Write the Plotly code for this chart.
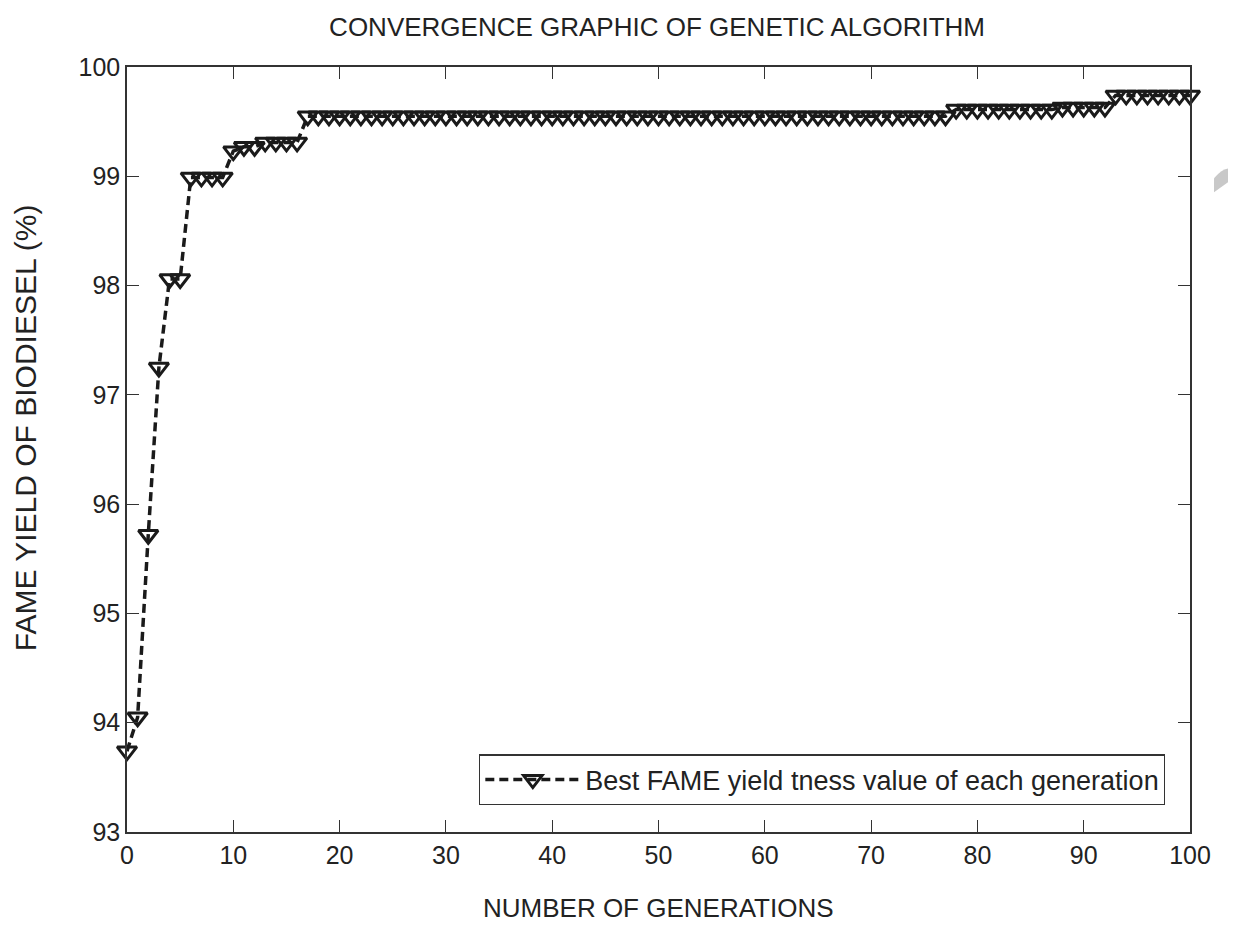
import plotly.graph_objects as go

generations = list(range(0, 101))
best_fame = [
    93.74, 94.05, 95.72, 97.25, 98.06, 98.06,
    98.99, 98.99, 98.99, 98.99,
    99.23, 99.27, 99.27,
    99.31, 99.31, 99.31, 99.31,
    99.55, 99.55, 99.55, 99.55, 99.55, 99.55, 99.55, 99.55, 99.55, 99.55,
    99.55, 99.55, 99.55, 99.55, 99.55, 99.55, 99.55, 99.55, 99.55, 99.55,
    99.55, 99.55, 99.55, 99.55, 99.55, 99.55, 99.55, 99.55, 99.55, 99.55,
    99.55, 99.55, 99.55, 99.55, 99.55, 99.55, 99.55, 99.55, 99.55, 99.55,
    99.55, 99.55, 99.55, 99.55, 99.55, 99.55, 99.55, 99.55, 99.55, 99.55,
    99.55, 99.55, 99.55, 99.55, 99.55, 99.55, 99.55, 99.55, 99.55, 99.55,
    99.55,
    99.61, 99.61, 99.61, 99.61, 99.61, 99.61, 99.61, 99.61, 99.61, 99.61,
    99.63, 99.63, 99.63, 99.63, 99.63,
    99.74, 99.74, 99.74, 99.74, 99.74, 99.74, 99.74, 99.74,
]
x_ticks = [0, 10, 20, 30, 40, 50, 60, 70, 80, 90, 100]
y_ticks = [93, 94, 95, 96, 97, 98, 99, 100]
series_name = "Best FAME yield tness value of each generation"

FONT = "Liberation Sans, Arial, sans-serif"
TXT = "#222222"

fig = go.Figure()
fig.add_trace(go.Scatter(
    x=generations, y=best_fame, mode="lines+markers", name=series_name,
    line=dict(color="#1a1a1a", width=3.5, dash="9px,5px"),
    marker=dict(symbol="triangle-down-open", size=17, color="#1a1a1a",
                line=dict(width=3, color="#1a1a1a")),
    cliponaxis=False,
))

axis_common = dict(
    showgrid=False, zeroline=False, showline=True, linecolor="#333333", linewidth=1.5,
    mirror="ticks", ticks="inside", ticklen=12, tickwidth=1.3, tickcolor="#333333",
    tickfont=dict(family=FONT, size=25, color=TXT), automargin=False,
)

fig.update_layout(
    width=1220, height=917,
    paper_bgcolor="white", plot_bgcolor="white",
    margin=dict(l=119, r=38, t=59, b=93, autoexpand=False),
    title=dict(text="CONVERGENCE GRAPHIC OF GENETIC ALGORITHM", x=0.532, xanchor="center",
               y=1 - 19 / 917, yanchor="middle",
               font=dict(family=FONT, size=26, color=TXT)),
    xaxis=dict(range=[0, 100], tickvals=x_ticks, **axis_common),
    yaxis=dict(range=[93, 100], tickvals=y_ticks, **axis_common),
    showlegend=True,
    legend=dict(x=0.9765, y=0.035, xanchor="right", yanchor="bottom",
                bgcolor="white", bordercolor="#333333", borderwidth=1.3,
                font=dict(family=FONT, size=27, color=TXT),
                itemwidth=95),
)

fig.add_annotation(text="NUMBER OF GENERATIONS", xref="paper", yref="paper",
                   x=0.5, y=-0.0993, xanchor="center", yanchor="middle",
                   showarrow=False, font=dict(family=FONT, size=26, color=TXT))
fig.add_annotation(text="FAME YIELD OF BIODIESEL (%)", xref="paper", yref="paper",
                   x=-0.096, y=0.529, xanchor="center", yanchor="middle",
                   textangle=-90, showarrow=False,
                   font=dict(family=FONT, size=30, color=TXT))

fig.add_shape(type="path", xref="paper", yref="paper",
              path="M 1.0226 0.8545 Q 1.0301 0.8676 1.0376 0.8676 L 1.0433 0.8571 L 1.0226 0.8362 Z",
              fillcolor="#c8c8c8", line=dict(width=0))

fig.write_html("out.html")
